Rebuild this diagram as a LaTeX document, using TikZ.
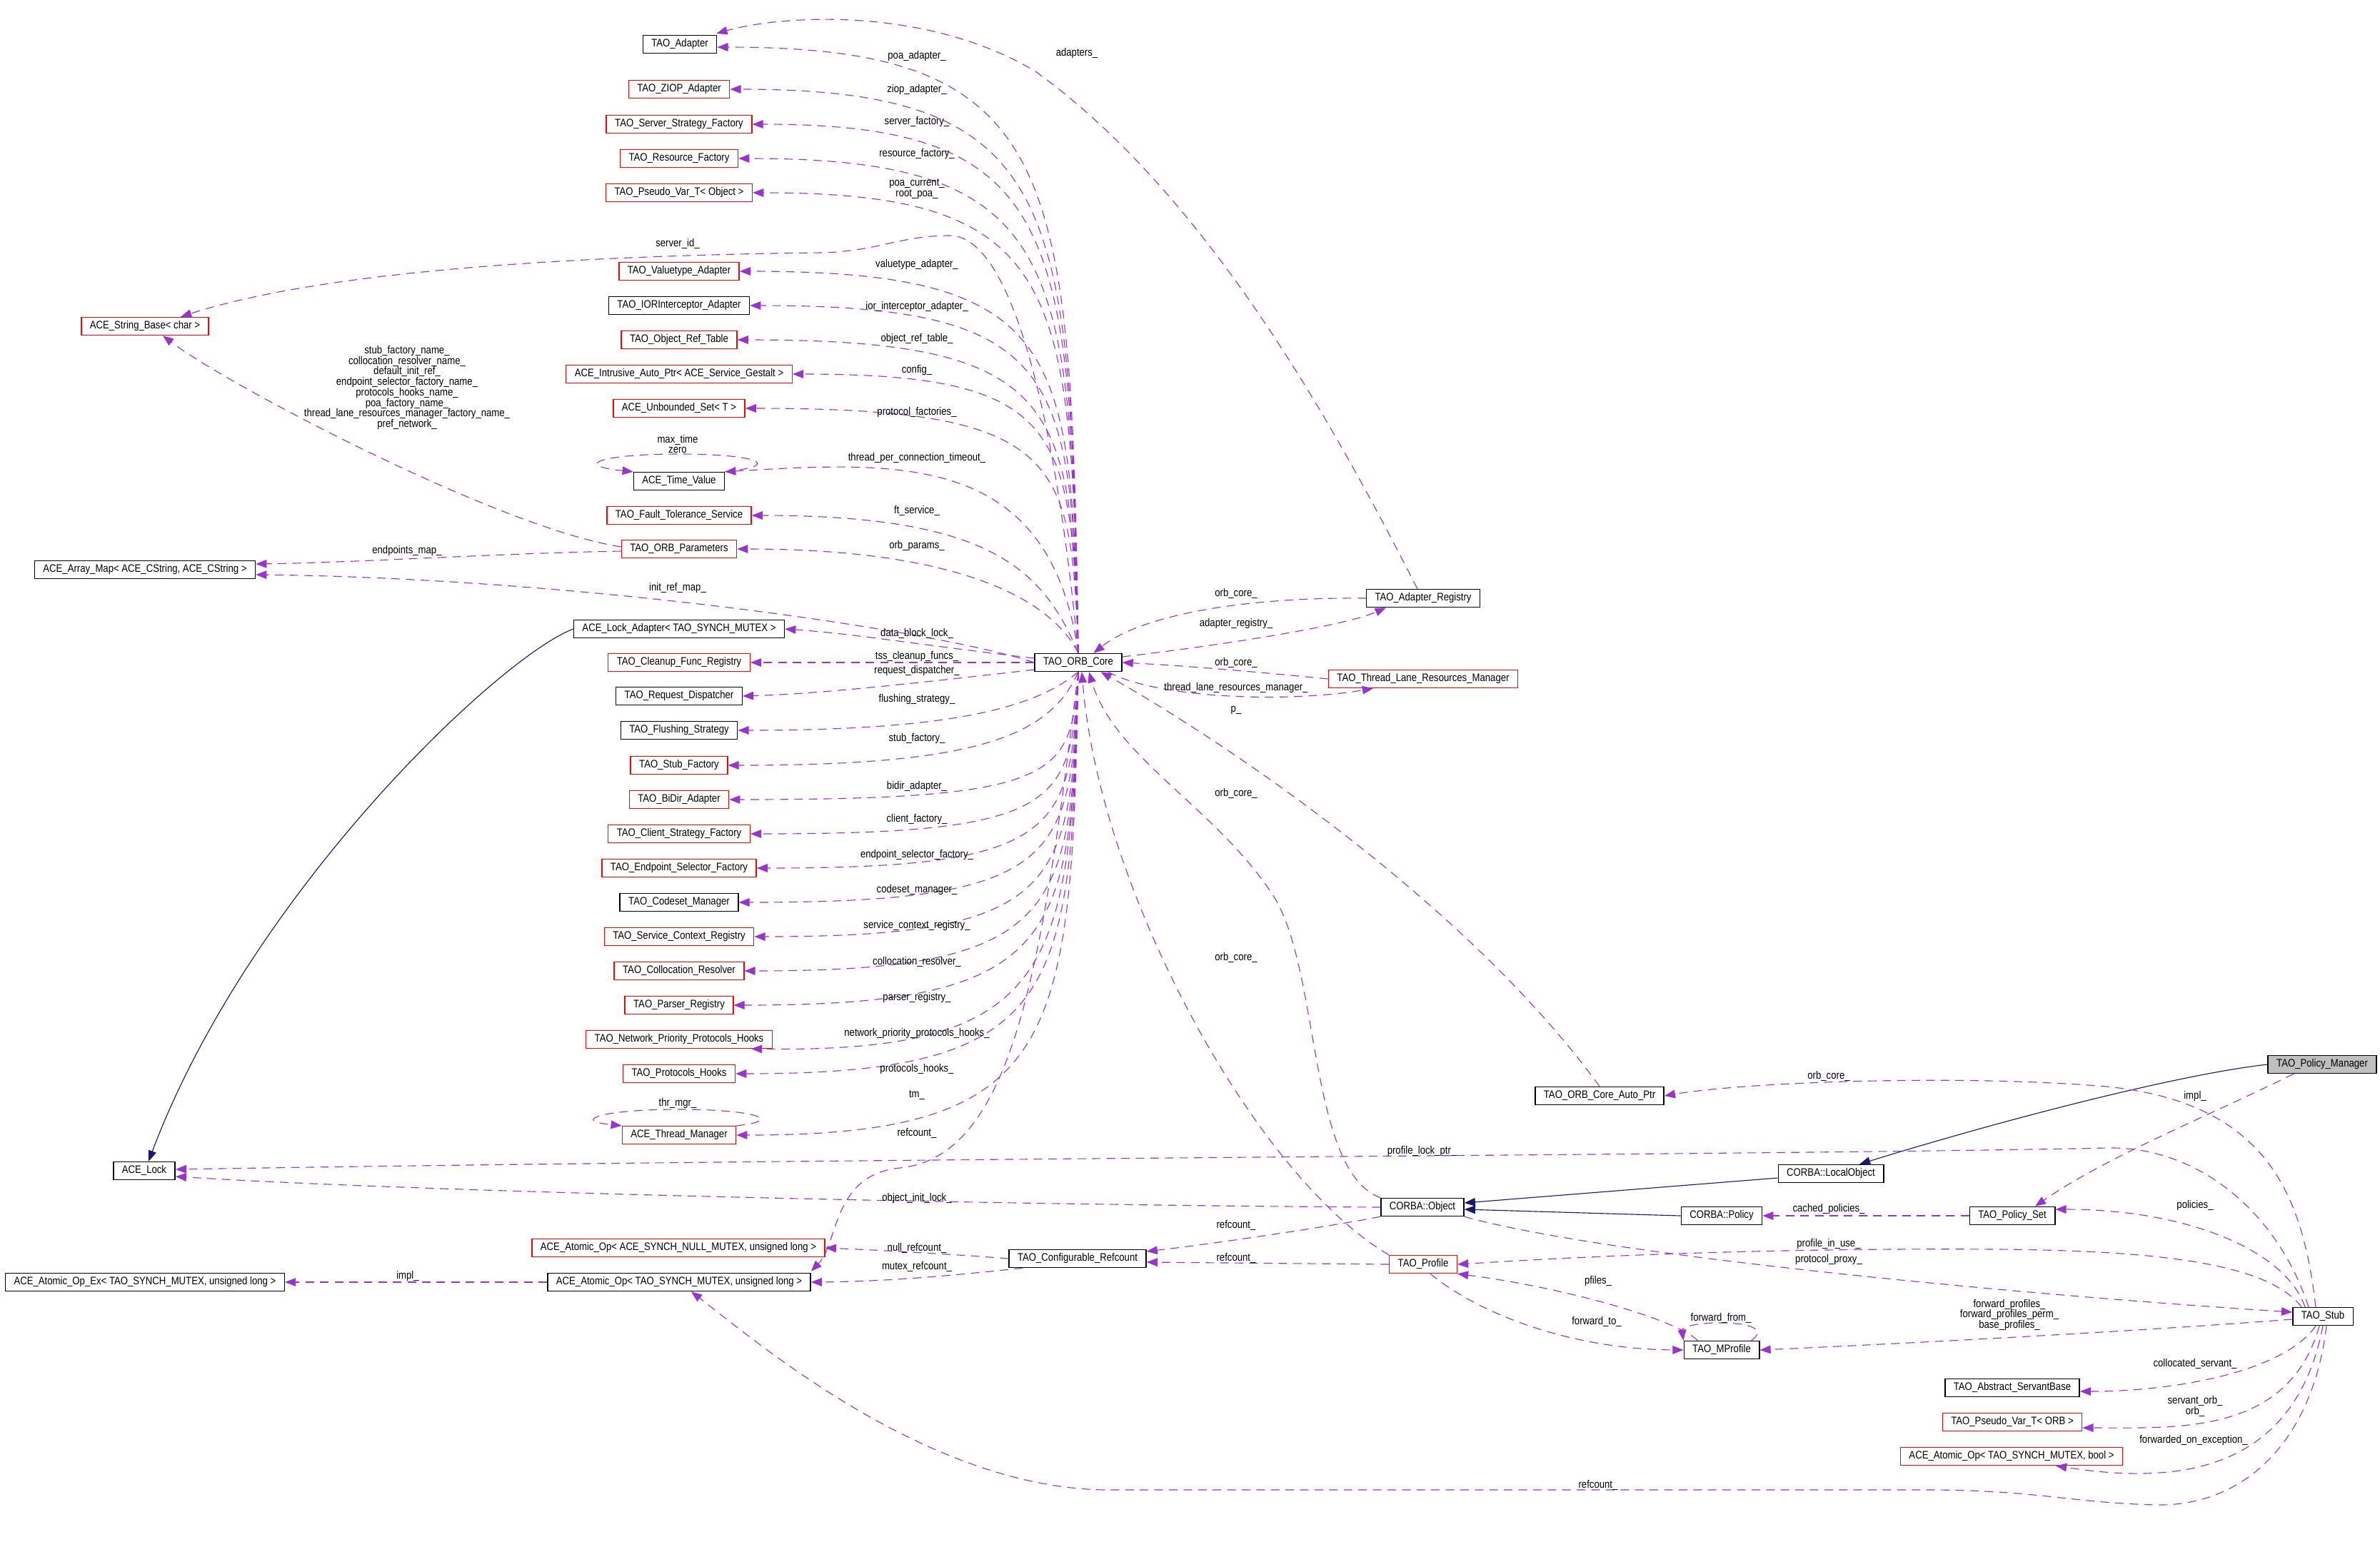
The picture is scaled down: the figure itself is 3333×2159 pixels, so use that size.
\documentclass[tikz,border=0pt]{standalone}
\usepackage{fontspec}
\setmainfont{Liberation Sans}[FakeStretch=0.86]
\usetikzlibrary{arrows.meta,calc}

\definecolor{dxpurple}{HTML}{9A32CD}
\definecolor{dxnavy}{HTML}{191970}
\definecolor{dxgray}{HTML}{BFBFBF}

\tikzset{
  cls/.style={draw=black, line width=0.4pt, minimum height=0.25cm, inner xsep=0.12cm,
    inner ysep=0pt, text height=3.1pt, text depth=0.9pt, font=\fontsize{4.35}{4.2}\selectfont},
  clsred/.style={cls, draw=red},
  clsgray/.style={cls, fill=dxgray},
  dep/.style={draw=dxpurple, line width=0.32pt, dash pattern=on 3.4pt off 2.4pt,
    -{Triangle[length=4.3pt,width=3.3pt]}},
  inh/.style={draw=dxnavy, line width=0.32pt, -{Triangle[length=4.3pt,width=3.3pt]}},
  lbl/.style={font=\fontsize{4.35}{4.2}\selectfont, inner sep=0pt, align=center},
}

\begin{document}
\begin{tikzpicture}[x=0.01cm, y=-0.01cm]
  \fill[white] (0,0) rectangle (3333,2159);

  % Classes, left column:
  \node[cls]    (adapter)  at (952,62)   {TAO\_Adapter};
  \node[clsred] (ziop)     at (951,125)  {TAO\_ZIOP\_Adapter};
  \node[clsred] (ssf)      at (951,174)  {TAO\_Server\_Strategy\_Factory};
  \node[clsred] (resf)     at (951,222)  {TAO\_Resource\_Factory};
  \node[clsred] (pvobj)    at (951,270)  {TAO\_Pseudo\_Var\_T< Object >};
  \node[clsred] (vtype)    at (951,380)  {TAO\_Valuetype\_Adapter};
  \node[cls]    (iorint)   at (951,428)  {TAO\_IORInterceptor\_Adapter};
  \node[clsred] (oref)     at (951,476)  {TAO\_Object\_Ref\_Table};
  \node[clsred] (gestalt)  at (951,524)  {ACE\_Intrusive\_Auto\_Ptr< ACE\_Service\_Gestalt >};
  \node[clsred] (uset)     at (951,572)  {ACE\_Unbounded\_Set< T >};
  \node[cls]    (time)     at (951,674)  {ACE\_Time\_Value};
  \node[clsred] (fts)      at (951,722)  {TAO\_Fault\_Tolerance\_Service};
  \node[clsred] (params)   at (951,769)  {TAO\_ORB\_Parameters};
  \node[cls]    (ladapter) at (951,881)  {ACE\_Lock\_Adapter< TAO\_SYNCH\_MUTEX >};
  \node[clsred] (cleanup)  at (951,928)  {TAO\_Cleanup\_Func\_Registry};
  \node[cls]    (reqd)     at (951,975)  {TAO\_Request\_Dispatcher};
  \node[cls]    (flush)    at (951,1023) {TAO\_Flushing\_Strategy};
  \node[clsred] (stubf)    at (951,1072) {TAO\_Stub\_Factory};
  \node[clsred] (bidir)    at (951,1120) {TAO\_BiDir\_Adapter};
  \node[clsred] (csf)      at (951,1168) {TAO\_Client\_Strategy\_Factory};
  \node[clsred] (esf)      at (951,1216) {TAO\_Endpoint\_Selector\_Factory};
  \node[cls]    (codeset)  at (951,1264) {TAO\_Codeset\_Manager};
  \node[clsred] (scr)      at (951,1312) {TAO\_Service\_Context\_Registry};
  \node[clsred] (colloc)   at (951,1360) {TAO\_Collocation\_Resolver};
  \node[clsred] (parser)   at (951,1408) {TAO\_Parser\_Registry};
  \node[clsred] (npph)     at (951,1456) {TAO\_Network\_Priority\_Protocols\_Hooks};
  \node[clsred] (phooks)   at (951,1504) {TAO\_Protocols\_Hooks};
  \node[clsred] (tmgr)     at (951,1590) {ACE\_Thread\_Manager};
  \node[clsred] (aopn)     at (950,1748) {ACE\_Atomic\_Op< ACE\_SYNCH\_NULL\_MUTEX, unsigned long >};
  \node[cls]    (aop)      at (951,1796) {ACE\_Atomic\_Op< TAO\_SYNCH\_MUTEX, unsigned long >};

  % Classes, far left:
  \node[clsred] (sbase)    at (203,457)  {ACE\_String\_Base< char >};
  \node[cls]    (amap)     at (203,798)  {ACE\_Array\_Map< ACE\_CString, ACE\_CString >};
  \node[cls]    (lock)     at (202,1640) {ACE\_Lock};
  \node[cls]    (aopex)    at (203,1796) {ACE\_Atomic\_Op\_Ex< TAO\_SYNCH\_MUTEX, unsigned long >};

  % Classes, middle and right:
  \node[cls]    (core)     at (1510,928) {TAO\_ORB\_Core};
  \node[cls]    (cref)     at (1509,1763) {TAO\_Configurable\_Refcount};
  \node[cls]    (areg)     at (1993,838) {TAO\_Adapter\_Registry};
  \node[clsred] (tlrm)     at (1993,951) {TAO\_Thread\_Lane\_Resources\_Manager};
  \node[cls]    (obj)      at (1992,1691) {CORBA::Object};
  \node[clsred] (prof)     at (1993,1771) {TAO\_Profile};
  \node[cls]    (aptr)     at (2240,1535) {TAO\_ORB\_Core\_Auto\_Ptr};
  \node[clsgray] (pmgr)    at (3252,1491) {TAO\_Policy\_Manager};
  \node[cls]    (lobj)     at (2564,1644) {CORBA::LocalObject};
  \node[cls]    (cpol)     at (2411,1703) {CORBA::Policy};
  \node[cls]    (pset)     at (2818,1703) {TAO\_Policy\_Set};
  \node[cls]    (stub)     at (3253,1844) {TAO\_Stub};
  \node[cls]    (mprof)    at (2411,1891) {TAO\_MProfile};
  \node[cls]    (asb)      at (2818,1944) {TAO\_Abstract\_ServantBase};
  \node[clsred] (pvorb)    at (2818,1992) {TAO\_Pseudo\_Var\_T< ORB >};
  \node[clsred] (aopb)     at (2817,2040) {ACE\_Atomic\_Op< TAO\_SYNCH\_MUTEX, bool >};

  % Inheritance:
  \draw[inh] (ladapter.west) .. controls (700,920) and (350,1250) .. ($(lock.north)+(6,0)$);
  \draw[inh] (pmgr.west) .. controls (3050,1505) and (2800,1570) .. ($(lobj.north)+(40,0)$);
  \draw[inh] ($(lobj.west)+(0,6)$) -- ($(obj.east)+(0,-6)$);
  \draw[inh] (cpol.west) -- ($(obj.east)+(0,3)$);

  % TAO_ORB_Core members, upper part:
  \draw[dep] (core.north) .. controls +(-10,-679) and +(482,0) .. ($(adapter.east)+(0,4)$) node[lbl] at (1284,79) {poa\_adapter\_};
  \draw[dep] (core.north) .. controls +(-10,-632) and +(465,0) .. (ziop.east) node[lbl] at (1284,126) {ziop\_adapter\_};
  \draw[dep] (core.north) .. controls +(-10,-593) and +(433,0) .. (ssf.east) node[lbl] at (1284,171) {server\_factory\_};
  \draw[dep] (core.north) .. controls +(-10,-554) and +(453,0) .. (resf.east) node[lbl] at (1284,216) {resource\_factory\_};
  \draw[dep] (core.north) .. controls +(-10,-516) and +(433,0) .. (pvobj.east) node[lbl] at (1284,265) {poa\_current\_\\root\_poa\_};
  \draw[dep] (core.north) .. controls (1480,600) and (1420,330) .. (1330,330) .. controls (1260,330) and (1230,352) .. (1150,354) .. controls (800,358) and (450,380) .. ($(sbase.north)+(50,0)$) node[lbl] at (949,341) {server\_id\_};
  \draw[dep] (core.north) .. controls +(-10,-428) and +(451,0) .. (vtype.east) node[lbl] at (1284,371) {valuetype\_adapter\_};
  \draw[dep] (core.north) .. controls +(-10,-390) and +(438,0) .. (iorint.east) node[lbl] at (1284,430) {ior\_interceptor\_adapter\_};
  \draw[dep] (core.north) .. controls +(-10,-351) and +(453,0) .. (oref.east) node[lbl] at (1284,475) {object\_ref\_table\_};
  \draw[dep] (core.north) .. controls +(-10,-313) and +(379,0) .. (gestalt.east) node[lbl] at (1284,519) {config\_};
  \draw[dep] (core.north) .. controls +(-10,-274) and +(443,0) .. (uset.east) node[lbl] at (1284,578) {protocol\_factories\_};
  \draw[dep] (core.north) .. controls +(-40,-280) and +(250,-15) .. (time.north east) node[lbl] at (1284,642) {thread\_per\_connection\_timeout\_};
  \draw[dep] (time.north east) .. controls (1100,652) and (1060,636) .. (951,636) .. controls (840,636) and (800,652) .. (time.north west) node[lbl] at (949,622) {max\_time\\zero};
  \draw[dep] (core.north) .. controls +(-50,-120) and +(330,0) .. (fts.east) node[lbl] at (1284,715) {ft\_service\_};
  \draw[dep] (core.north) .. controls +(-40,-80) and +(300,0) .. (params.east) node[lbl] at (1284,765) {orb\_params\_};

  % TAO_ORB_Parameters members:
  \draw[dep] ($(params.west)+(0,-3)$) .. controls (700,740) and (320,540) .. ($(sbase.south)+(25,0)$) node[lbl] at (570,543) {stub\_factory\_name\_\\collocation\_resolver\_name\_\\default\_init\_ref\_\\endpoint\_selector\_factory\_name\_\\protocols\_hooks\_name\_\\poa\_factory\_name\_\\thread\_lane\_resources\_manager\_factory\_name\_\\pref\_network\_};
  \draw[dep] ($(params.west)+(0,3)$) .. controls (700,775) and (500,788) .. ($(amap.east)+(0,-8)$) node[lbl] at (570,772) {endpoints\_map\_};

  % TAO_ORB_Core members, middle:
  \draw[dep] (core.west) .. controls (1300,880) and (800,810) .. ($(amap.east)+(0,7)$) node[lbl] at (949,824) {init\_ref\_map\_};
  \draw[dep] ($(core.west)+(0,-6)$) .. controls (1300,905) and (1200,888) .. (ladapter.east) node[lbl] at (1284,887) {data\_block\_lock\_};
  \draw[dep] (core.west) -- (cleanup.east) node[lbl] at (1284,920) {tss\_cleanup\_funcs\_};
  \draw[dep] ($(core.west)+(0,10)$) .. controls (1300,955) and (1150,972) .. (reqd.east) node[lbl] at (1284,940) {request\_dispatcher\_};

  % TAO_ORB_Core members, lower part:
  \draw[dep] (core.south) .. controls +(-60,50) and +(300,0) .. (flush.east) node[lbl] at (1284,980) {flushing\_strategy\_};
  \draw[dep] (core.south) .. controls +(-40,90) and +(350,0) .. (stubf.east) node[lbl] at (1284,1035) {stub\_factory\_};
  \draw[dep] (core.south) .. controls +(-10,146) and +(465,0) .. (bidir.east) node[lbl] at (1284,1102) {bidir\_adapter\_};
  \draw[dep] (core.south) .. controls +(-10,185) and +(436,0) .. (csf.east) node[lbl] at (1284,1148) {client\_factory\_};
  \draw[dep] (core.south) .. controls +(-10,223) and +(427,0) .. (esf.east) node[lbl] at (1284,1198) {endpoint\_selector\_factory\_};
  \draw[dep] (core.south) .. controls +(-10,262) and +(453,0) .. (codeset.east) node[lbl] at (1284,1247) {codeset\_manager\_};
  \draw[dep] (core.south) .. controls +(-10,300) and +(431,0) .. (scr.east) node[lbl] at (1284,1297) {service\_context\_registry\_};
  \draw[dep] (core.south) .. controls +(-10,338) and +(445,0) .. (colloc.east) node[lbl] at (1284,1347) {collocation\_resolver\_};
  \draw[dep] (core.south) .. controls +(-10,377) and +(458,0) .. (parser.east) node[lbl] at (1284,1398) {parser\_registry\_};
  \draw[dep] (core.south) .. controls +(-10,422) and +(420,5) .. ($(npph.south east)+(-30,0)$) node[lbl] at (1284,1448) {network\_priority\_protocols\_hooks\_};
  \draw[dep] (core.south) .. controls +(-10,454) and +(457,0) .. (phooks.east) node[lbl] at (1284,1498) {protocols\_hooks\_};
  \draw[dep] (core.south) .. controls +(-10,520) and +(455,0) .. (tmgr.east) node[lbl] at (1284,1534) {tm\_};
  \draw[dep] (tmgr.north east) .. controls (1100,1570) and (1060,1554) .. (951,1554) .. controls (840,1554) and (800,1570) .. (tmgr.north west) node[lbl] at (949,1546) {thr\_mgr\_};
  \draw[dep] (core.south) .. controls (1460,1350) and (1420,1620) .. (1260,1636) .. controls (1165,1646) and (1175,1740) .. ($(aop.north east)+(0,-2)$) node[lbl] at (1284,1587) {refcount\_};

  % Around TAO_ORB_Core, right:
  \draw[dep] (areg.west) .. controls (1750,836) and (1600,860) .. ($(core.north east)+(-40,0)$) node[lbl] at (1731,831) {orb\_core\_};
  \draw[dep] ($(core.east)+(0,-8)$) .. controls (1700,905) and (1880,878) .. ($(areg.south west)+(28,0)$) node[lbl] at (1731,874) {adapter\_registry\_};
  \draw[dep] (tlrm.west) .. controls (1750,940) and (1650,932) .. (core.east) node[lbl] at (1731,928) {orb\_core\_};
  \draw[dep] ($(core.south east)+(-20,0)$) .. controls (1620,978) and (1800,985) .. ($(tlrm.south)+(-70,0)$) node[lbl] at (1731,964) {thread\_lane\_resources\_manager\_};
  \draw[dep] (aptr.north) .. controls (2050,1260) and (1700,1030) .. ($(core.south east)+(-30,0)$) node[lbl] at (1731,995) {p\_};
  \draw[dep] (obj.north west) .. controls (1830,1640) and (1850,1350) .. (1780,1250) .. controls (1700,1130) and (1560,1060) .. ($(core.south)+(15,0)$) node[lbl] at (1731,1111) {orb\_core\_};
  \draw[dep] (prof.north west) .. controls (1760,1650) and (1540,1250) .. ($(core.south)+(5,0)$) node[lbl] at (1731,1341) {orb\_core\_};
  \draw[dep] ($(areg.north)+(-8,0)$) .. controls (1880,620) and (1700,280) .. (1450,100) .. controls (1300,10) and (1100,20) .. ($(adapter.north east)+(-1,-2)$) node[lbl] at (1508,75) {adapters\_};

  % Lower middle:
  \draw[dep] (obj.west) .. controls (1400,1688) and (600,1670) .. ($(lock.east)+(0,8)$) node[lbl] at (1284,1679) {object\_init\_lock\_};
  \draw[dep] (obj.south west) .. controls (1850,1720) and (1700,1742) .. ($(cref.east)+(0,-10)$) node[lbl] at (1731,1716) {refcount\_};
  \draw[dep] (prof.west) -- ($(cref.east)+(0,5)$) node[lbl] at (1731,1762) {refcount\_};
  \draw[dep] (cref.west) .. controls (1350,1758) and (1250,1752) .. (aopn.east) node[lbl] at (1284,1748) {null\_refcount\_};
  \draw[dep] ($(cref.south west)+(20,0)$) .. controls (1350,1785) and (1250,1795) .. (aop.east) node[lbl] at (1284,1774) {mutex\_refcount\_};
  \draw[dep] (aop.west) -- (aopex.east) node[lbl] at (571,1788) {impl\_};

  % TAO_Stub and the policy classes:
  \draw[dep] ($(stub.north)+(-10,0)$) .. controls (3225,1680) and (3180,1545) .. (2950,1522) .. controls (2750,1505) and (2450,1515) .. (aptr.east) node[lbl] at (2561,1507) {orb\_core\_};
  \draw[dep] ($(stub.north)+(-20,0)$) .. controls (3190,1700) and (3080,1605) .. (2950,1608) .. controls (2500,1618) and (1200,1622) .. ($(lock.east)+(0,-2)$) node[lbl] at (1991,1613) {profile\_lock\_ptr\_};
  \draw[dep] ($(pmgr.south)+(-40,0)$) .. controls (3100,1560) and (2950,1620) .. ($(pset.north)+(32,0)$) node[lbl] at (3074,1536) {impl\_};
  \draw[dep] (pset.west) -- (cpol.east) node[lbl] at (2561,1694) {cached\_policies\_};
  \draw[dep] ($(stub.north)+(-25,0)$) .. controls (3200,1750) and (3060,1694) .. ($(pset.east)+(0,-9)$) node[lbl] at (3074,1689) {policies\_};
  \draw[dep] ($(stub.north)+(-30,0)$) .. controls (3180,1775) and (3050,1752) .. (2800,1750) .. controls (2500,1748) and (2250,1758) .. (prof.east) node[lbl] at (2561,1743) {profile\_in\_use\_};
  \draw[dep] (obj.south east) .. controls (2250,1760) and (2850,1815) .. ($(stub.west)+(0,-6)$) node[lbl] at (2561,1765) {protocol\_proxy\_};
  \draw[dep] ($(stub.west)+(0,4)$) .. controls (2950,1868) and (2600,1885) .. (mprof.east) node[lbl] at (2814,1842) {forward\_profiles\_\\forward\_profiles\_perm\_\\base\_profiles\_};
  \draw[dep] ($(prof.south)+(10,0)$) .. controls (2070,1840) and (2200,1890) .. (mprof.west) node[lbl] at (2236,1851) {forward\_to\_};
  \draw[dep] ($(mprof.north west)+(20,0)$) .. controls (2350,1850) and (2200,1805) .. (prof.south east) node[lbl] at (2238,1795) {pfiles\_};
  \draw[dep] ($(mprof.north east)+(-12,0)$) .. controls (2475,1862) and (2450,1853) .. (2410,1853) .. controls (2370,1853) and (2355,1860) .. (mprof.north west) node[lbl] at (2410,1846) {forward\_from\_};
  \draw[dep] ($(stub.south)+(-10,0)$) .. controls (3200,1920) and (3050,1949) .. ($(asb.east)+(0,5)$) node[lbl] at (3074,1910) {collocated\_servant\_};
  \draw[dep] ($(stub.south)+(-5,0)$) .. controls (3205,2010) and (3050,2000) .. ($(pvorb.east)+(0,8)$) node[lbl] at (3074,1970) {servant\_orb\_\\orb\_};
  \draw[dep] (stub.south) .. controls (3210,2080) and (3020,2075) .. ($(aopb.south)+(62,0)$) node[lbl] at (3072,2018) {forwarded\_on\_exception\_};
  \draw[dep] ($(stub.south)+(5,0)$) .. controls (3240,2010) and (3150,2110) .. (3020,2108) .. controls (2900,2105) and (2850,2087) .. (2700,2087) -- (1550,2087) .. controls (1300,2085) and (1060,1880) .. ($(aop.south)+(17,0)$) node[lbl] at (2238,2080) {refcount\_};
\end{tikzpicture}
\end{document}
